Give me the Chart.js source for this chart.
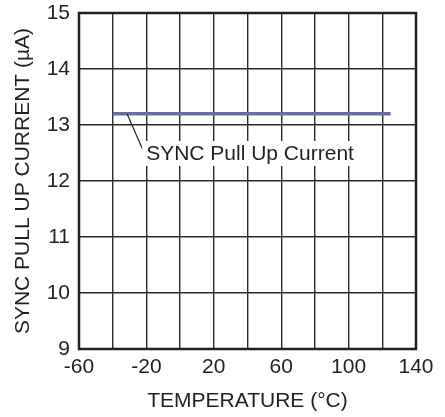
<!DOCTYPE html>
<html>
<head>
<meta charset="utf-8">
<script src="https://cdn.jsdelivr.net/npm/chart.js@4/dist/chart.umd.min.js"></script>
<style>
html,body{margin:0;padding:0;background:#fff;}
#wrap{width:445px;height:417px;position:relative;}
</style>
</head>
<body>
<div id="wrap"><canvas id="c" width="445" height="417"></canvas></div>
<script>
const temperatures = [-40, 125];
const pullUpCurrent = [13.2, 13.2];
const seriesName = "SYNC Pull Up Current";
const xTitle = "TEMPERATURE (°C)";
const yTitle = "SYNC PULL UP CURRENT (µA)";
const xRange = [-60, 140];
const yRange = [9, 15];
// annotation: leader from series point to label, label center
const leaderFrom = [-31.5, 13.2];
const leaderTo = [-22, 12.55];
const labelAt = [41.5, 12.5];

const FONT = "'Liberation Sans', Arial, sans-serif";
const INK = '#231f20';

const annotPlugin = {
  id: 'annot',
  afterDatasetsDraw(chart) {
    const {ctx, chartArea: a, scales: {x, y}} = chart;
    ctx.save();
    // frame
    ctx.strokeStyle = INK;
    ctx.lineWidth = 2.5;
    ctx.strokeRect(a.left, a.top, a.right - a.left, a.bottom - a.top);
    // leader
    ctx.lineWidth = 1.2;
    ctx.beginPath();
    ctx.moveTo(x.getPixelForValue(leaderFrom[0]), y.getPixelForValue(leaderFrom[1]));
    ctx.lineTo(x.getPixelForValue(leaderTo[0]), y.getPixelForValue(leaderTo[1]));
    ctx.stroke();
    // label with white box
    ctx.font = '21px ' + FONT;
    const cx = x.getPixelForValue(labelAt[0]);
    const cy = y.getPixelForValue(labelAt[1]);
    const w = ctx.measureText(seriesName).width;
    ctx.fillStyle = '#fff';
    ctx.fillRect(cx - w / 2 - 4, cy - 12, w + 8, 25);
    ctx.fillStyle = INK;
    ctx.textAlign = 'center';
    ctx.textBaseline = 'middle';
    ctx.fillText(seriesName, cx, cy + 1);
    ctx.restore();
  }
};

new Chart(document.getElementById('c'), {
  type: 'scatter',
  data: {
    datasets: [{
      label: seriesName,
      data: temperatures.map((t, i) => ({x: t, y: pullUpCurrent[i]})),
      showLine: true,
      borderColor: '#6a6e9f',
      borderWidth: 3.4,
      pointRadius: 0,
      fill: false
    }]
  },
  options: {
    responsive: false,
    animation: false,
    devicePixelRatio: 1,
    layout: {padding: {top: 13, right: 29, left: 0, bottom: 0}},
    plugins: {legend: {display: false}, tooltip: {enabled: false}},
    scales: {
      x: {
        type: 'linear',
        min: xRange[0], max: xRange[1],
        afterFit(s) { s.height = 68; s.paddingLeft = 0; s.paddingRight = 0; },
        ticks: {
          stepSize: 20,
          autoSkip: false,
          maxRotation: 0,
          padding: 6,
          color: INK,
          font: {family: FONT, size: 21},
          callback: v => ((v - xRange[0]) % 40 === 0 ? String(v) : '')
        },
        grid: {color: '#2a2a2a', lineWidth: 1.4, drawTicks: false},
        border: {display: false},
        title: {display: true, text: xTitle, color: INK, font: {family: FONT, size: 21}, padding: {top: 0, bottom: 3}}
      },
      y: {
        min: yRange[0], max: yRange[1],
        afterFit(s) { s.width = 79; s.paddingTop = 0; s.paddingBottom = 0; },
        ticks: {
          stepSize: 1,
          padding: 9,
          color: INK,
          font: {family: FONT, size: 21}
        },
        grid: {color: '#2a2a2a', lineWidth: 1.4, drawTicks: false},
        border: {display: false},
        title: {display: true, text: yTitle, color: INK, font: {family: FONT, size: 21}, padding: {top: 11, bottom: 0}}
      }
    }
  },
  plugins: [annotPlugin]
});
</script>
</body>
</html>
